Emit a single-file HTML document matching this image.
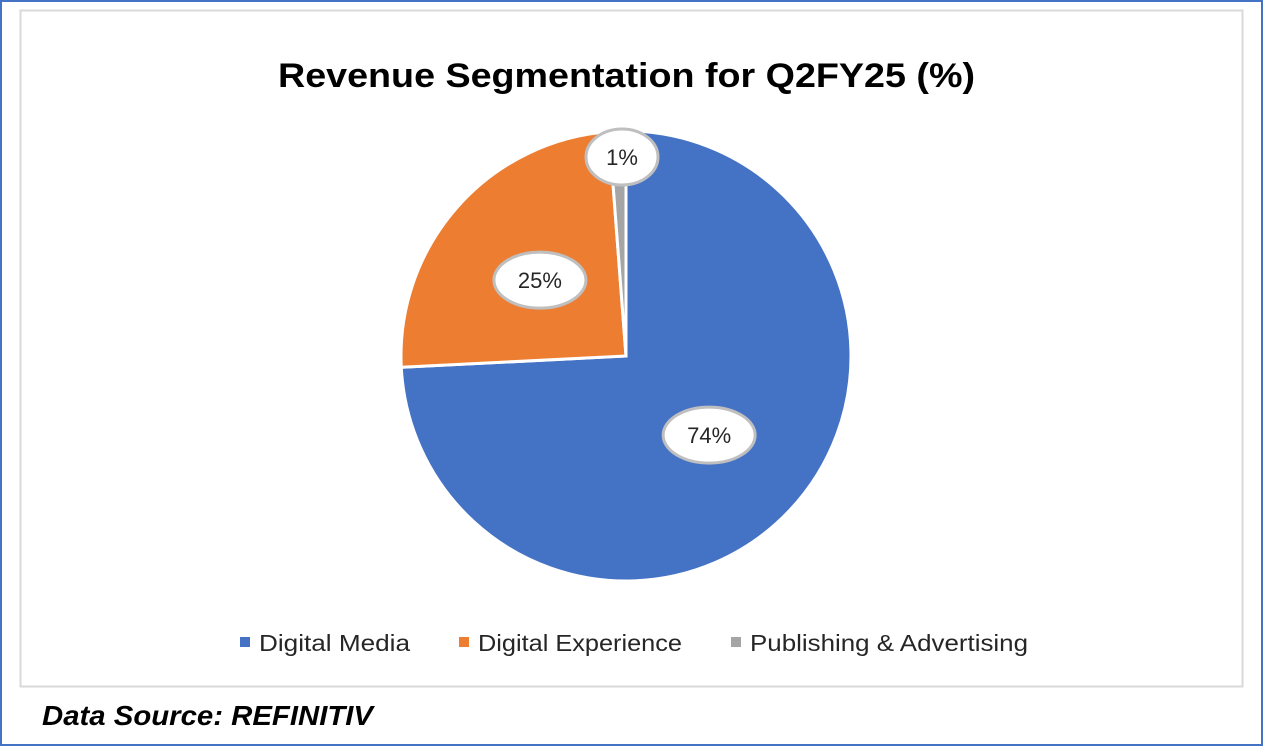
<!DOCTYPE html>
<html><head><meta charset="utf-8"><style>
body{margin:0;width:1263px;height:746px;overflow:hidden;background:#fff;font-family:"Liberation Sans",sans-serif}
</style></head><body>
<svg width="1263" height="746" xmlns="http://www.w3.org/2000/svg">
<rect x="1" y="1" width="1261" height="744" fill="#fff" stroke="#4472c4" stroke-width="2"/>
<rect x="20.5" y="10.5" width="1222" height="676" fill="#fff" stroke="#d9d9d9" stroke-width="2"/>
<text x="278" y="87" textLength="697" lengthAdjust="spacingAndGlyphs" font-size="34" font-weight="bold" fill="#000">Revenue Segmentation for Q2FY25 (%)</text>
<g id="pie"></g>
<g id="labels"></g>
<g font-size="23" fill="#262626">
<g><rect x="240" y="637" width="10" height="10" fill="#4472c4"/><text x="259" y="651" textLength="151" lengthAdjust="spacingAndGlyphs">Digital Media</text></g>
<g><rect x="459" y="637" width="10" height="10" fill="#ed7d31"/><text x="478" y="651" textLength="204" lengthAdjust="spacingAndGlyphs">Digital Experience</text></g>
<g><rect x="731" y="637" width="10" height="10" fill="#a5a5a5"/><text x="750" y="651" textLength="278" lengthAdjust="spacingAndGlyphs">Publishing &amp; Advertising</text></g>
</g>
<text x="42" y="725" textLength="331" lengthAdjust="spacingAndGlyphs" font-size="28" font-weight="bold" font-style="italic" fill="#000">Data Source: REFINITIV</text>
</svg>
<script>
const categories = ["Digital Media","Digital Experience","Publishing & Advertising"];
const values = [74.2, 24.6, 1.2];
const printed = ["74%","25%","1%"];
const colors = ["#4472c4","#ed7d31","#a5a5a5"];
const NS="http://www.w3.org/2000/svg";
const cx=626, cy=356, r=225;
const pie=document.getElementById('pie'), lab=document.getElementById('labels');
const total=values.reduce((a,b)=>a+b,0);
function pt(a,rr){return [cx+rr*Math.sin(a), cy-rr*Math.cos(a)];}
let a0=0;
const labelPos=[0.51,0.51,1.02];
values.forEach((v,i)=>{
  const a1=a0+v/total*2*Math.PI;
  const p0=pt(a0,r), p1=pt(a1,r);
  const large=(a1-a0)>Math.PI?1:0;
  const path=document.createElementNS(NS,'path');
  path.setAttribute('d',`M${cx},${cy} L${p0[0]},${p0[1]} A${r},${r} 0 ${large} 1 ${p1[0]},${p1[1]} Z`);
  path.setAttribute('fill',colors[i]);
  path.setAttribute('stroke','#fff');
  path.setAttribute('stroke-width','3');
  
  
  pie.appendChild(path);
  const mid=(a0+a1)/2;
  let lp;
  if(i===2){ lp=[622,157];
    const ln=document.createElementNS(NS,'line');
    const e=pt(mid,r*0.8);
    ln.setAttribute('x1',e[0]);ln.setAttribute('y1',e[1]);ln.setAttribute('x2',lp[0]);ln.setAttribute('y2',lp[1]);
    ln.setAttribute('stroke','#bfbfbf');ln.setAttribute('stroke-width','3');
    
    
    lab.appendChild(ln);
  } else lp=pt(mid,r*labelPos[i]);
  const w=i===2?72:92, h=i===2?56:56;
  const el=document.createElementNS(NS,'ellipse');
  el.setAttribute('cx',lp[0]);el.setAttribute('cy',lp[1]);el.setAttribute('rx',w/2);el.setAttribute('ry',h/2);
  el.setAttribute('fill','#fff');el.setAttribute('stroke','#bfbfbf');el.setAttribute('stroke-width','3');
  
  
  lab.appendChild(el);
  const t=document.createElementNS(NS,'text');
  t.setAttribute('x',lp[0]);t.setAttribute('y',lp[1]+8);t.setAttribute('text-anchor','middle');
  t.setAttribute('font-size','22');t.setAttribute('fill','#262626');
  t.textContent=printed[i];
  
  
  lab.appendChild(t);
  a0=a1;
});
</script>
</body></html>
